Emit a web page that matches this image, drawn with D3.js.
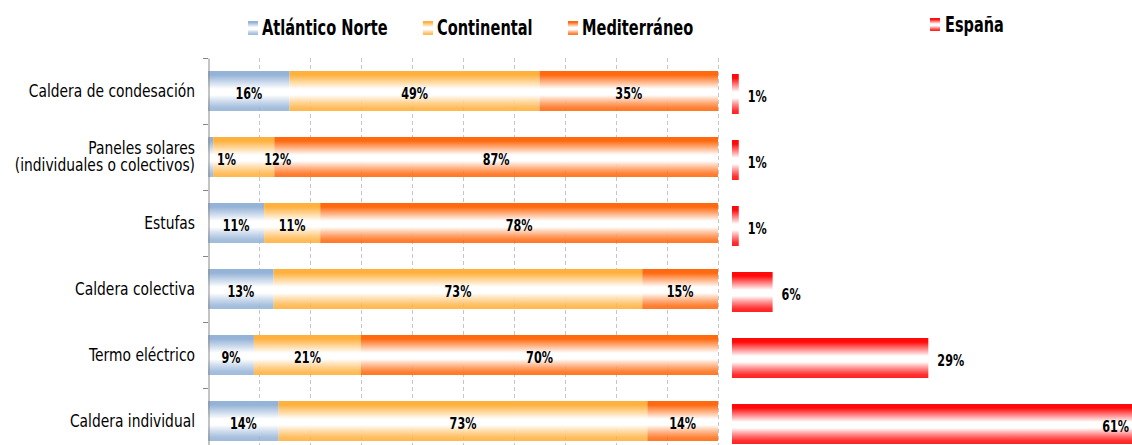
<!DOCTYPE html>
<html>
<head>
<meta charset="utf-8">
<script src="https://cdn.jsdelivr.net/npm/d3@7"></script>
<style>
  html, body { margin: 0; padding: 0; background: #fff; }
  svg { display: block; }
  text { font-family: "DejaVu Sans", sans-serif; fill: #000; }
</style>
</head>
<body>
<svg id="chart" width="1132" height="445"></svg>
<script>
// ---- data ----
const categories = [
  "Caldera de condesación",
  "Paneles solares\n(individuales o colectivos)",
  "Estufas",
  "Caldera colectiva",
  "Termo eléctrico",
  "Caldera individual"
];
const seriesNames = ["Atlántico Norte", "Continental", "Mediterráneo"];
const atlantico   = [16, 1, 11, 13, 9, 14];
const continental = [49, 12, 11, 73, 21, 73];
const mediterraneo = [35, 87, 78, 15, 70, 14];
const espanaName = "España";
const espana = [1, 1, 1, 6, 29, 61];
const gridTicks = [0.1, 0.2, 0.3, 0.4, 0.5, 0.6, 0.7, 0.8, 0.9, 1.0];

// ---- setup ----
const svg = d3.select("#chart");
const colors = ["#95B3D7", "#FFB13F", "#FF6A10"];
const espanaColor = "#FF0A0A";

const defs = svg.append("defs");
function makeGrad(id, c) {
  const g = defs.append("linearGradient").attr("id", id)
    .attr("x1", 0).attr("y1", 0).attr("x2", 0).attr("y2", 1);
  g.append("stop").attr("offset", 0).attr("stop-color", c);
  g.append("stop").attr("offset", 0.1).attr("stop-color", c);
  g.append("stop").attr("offset", 0.45).attr("stop-color", "#fff");
  g.append("stop").attr("offset", 0.6).attr("stop-color", "#fff");
  g.append("stop").attr("offset", 0.92).attr("stop-color", c).attr("stop-opacity", 0.85);
  g.append("stop").attr("offset", 1).attr("stop-color", c).attr("stop-opacity", 0.9);
}
colors.forEach((c, i) => makeGrad("g" + i, c));
makeGrad("gE", espanaColor);

// condensed text helper (horizontal squeeze to mimic a narrow font)
function addText(parent, x, yy, str, size, weight, anchor, sx) {
  const g = parent.append("g").attr("transform", `translate(${x},${yy}) scale(${sx},1)`);
  return g.append("text").attr("x", 0).attr("y", 0).attr("dy", "0.35em")
    .attr("font-size", size).attr("font-weight", weight)
    .attr("text-anchor", anchor).text(str);
}

const xL = d3.scaleLinear().domain([0, 1]).range([208, 718]);
const xR = d3.scaleLinear().domain([0, 100]).range([732, 1409]);
const y = d3.scaleBand().domain(categories).range([58, 454]).paddingInner(0.394).paddingOuter(0.197);
const yR = d3.scaleBand().domain(categories).range([61, 457]).paddingInner(0.394).paddingOuter(0.197);

// gridlines
svg.append("g").selectAll("line").data(gridTicks).join("line")
  .attr("x1", d => Math.round(xL(d)) + 0.5).attr("x2", d => Math.round(xL(d)) + 0.5)
  .attr("y1", 58).attr("y2", 454)
  .attr("stroke", "#c6c6c6").attr("stroke-dasharray", "4,3");

// stacked data (normalized to 100%)
const rows = categories.map((c, i) => ({ cat: c, a: atlantico[i], c: continental[i], m: mediterraneo[i] }));
const stack = d3.stack().keys(["a", "c", "m"]).offset(d3.stackOffsetExpand);
const stacked = stack(rows);

const gBars = svg.append("g");
stacked.forEach((layer, li) => {
  gBars.append("g").selectAll("rect").data(layer).join("rect")
    .attr("x", d => xL(d[0]))
    .attr("width", d => xL(d[1]) - xL(d[0]))
    .attr("y", d => y(d.data.cat))
    .attr("height", y.bandwidth())
    .attr("fill", `url(#g${li})`);
});

// axis (left)
const yAxis = d3.axisLeft(y).tickSize(0).tickFormat("");
const ax = svg.append("g").attr("transform", "translate(208.5,0)").call(yAxis);
ax.select(".domain").attr("stroke", "#888");
const bounds = d3.range(categories.length + 1).map(i => 58 + i * y.step());
svg.append("g").selectAll("line").data(bounds).join("line")
  .attr("x1", 203).attr("x2", 208)
  .attr("y1", d => Math.round(d) + 0.5).attr("y2", d => Math.round(d) + 0.5)
  .attr("stroke", "#888");

// category labels
const catG = svg.append("g");
categories.forEach(c => {
  const lines = c.split("\n");
  const cy = y(c) + y.bandwidth() / 2;
  const lh = 17;
  lines.forEach((ln, k) => {
    addText(catG, 195, cy + (k - (lines.length - 1) / 2) * lh, ln, 17, "normal", "end", 0.815);
  });
});

// segment labels
const nudges = { "1-0": 16, "1-1": 34 };
const labG = svg.append("g");
stacked.forEach((layer, li) => {
  layer.forEach((d, ri) => {
    const val = [atlantico, continental, mediterraneo][li][ri];
    const cx = (xL(d[0]) + xL(d[1])) / 2 + (nudges[ri + "-" + li] || 0);
    addText(labG, cx, y(d.data.cat) + y.bandwidth() / 2 + 2, val + "%", 16.5, "bold", "middle", 0.68);
  });
});

// España bars
const eData = categories.map((c, i) => ({ cat: c, v: espana[i] }));
svg.append("g").selectAll("rect").data(eData).join("rect")
  .attr("x", xR(0)).attr("width", d => xR(d.v) - xR(0))
  .attr("y", d => yR(d.cat)).attr("height", yR.bandwidth())
  .attr("fill", "url(#gE)");
const eLab = svg.append("g");
eData.forEach(d => {
  const over = xR(d.v) > 1132;
  addText(eLab, over ? 1129 : xR(d.v) + 9, yR(d.cat) + yR.bandwidth() / 2 + 2,
    d.v + "%", 16.5, "bold", over ? "end" : "start", 0.68);
});

// legend
const legG = svg.append("g");
const legX = [248, 423, 568];
seriesNames.forEach((n, i) => {
  legG.append("rect").attr("x", legX[i]).attr("y", 21).attr("width", 10).attr("height", 14)
    .attr("fill", `url(#g${i})`);
  addText(legG, legX[i] + 14, 28, n, 21, "bold", "start", 0.695);
});
legG.append("rect").attr("x", 930).attr("y", 18).attr("width", 10).attr("height", 13)
  .attr("fill", "url(#gE)");
addText(legG, 945, 24.5, espanaName, 21, "bold", "start", 0.69);
</script>
</body>
</html>
